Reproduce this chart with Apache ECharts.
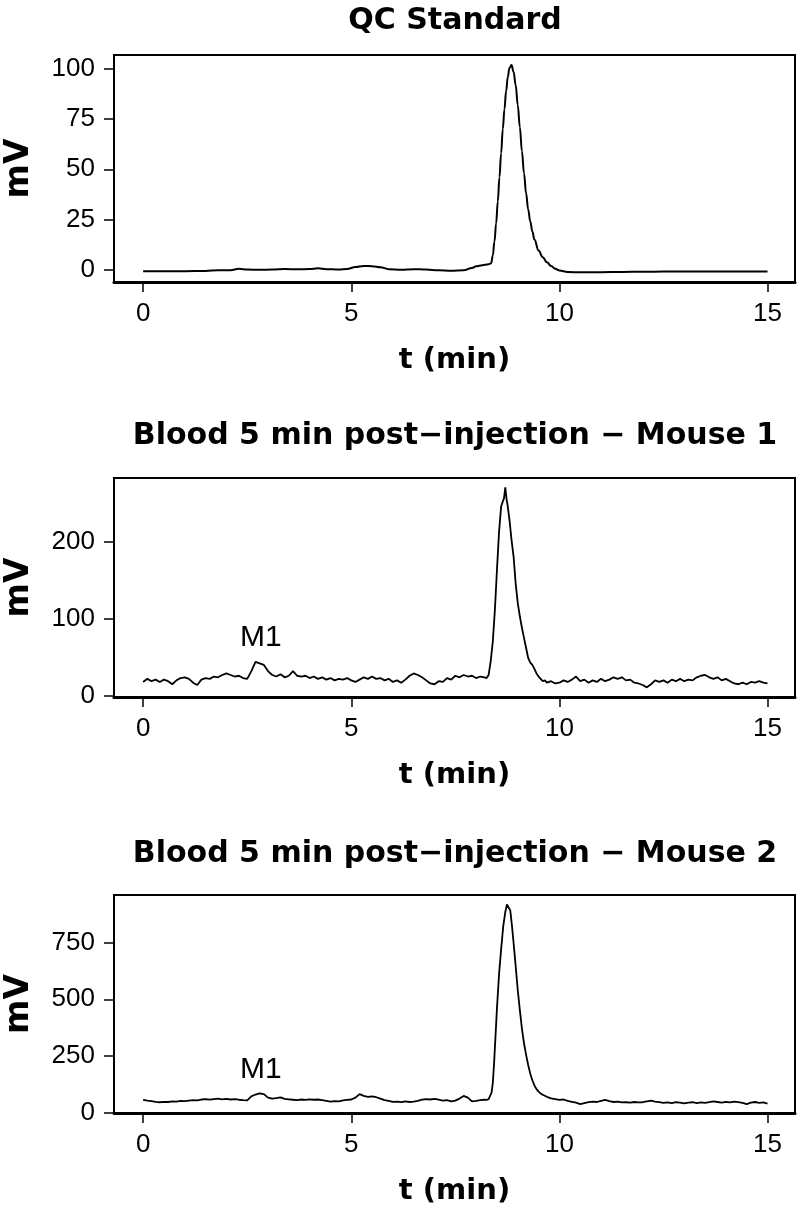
<!DOCTYPE html>
<html><head><meta charset="utf-8">
<script src="https://cdn.jsdelivr.net/npm/echarts@6/dist/echarts.min.js"></script>
<style>html,body{margin:0;padding:0;background:#fff}#c{width:800px;height:1208px}</style>
</head><body><div id="c"></div>
<script>
const panelTitles = ["QC Standard", "Blood 5 min post\u2212injection \u2212 Mouse 1", "Blood 5 min post\u2212injection \u2212 Mouse 2"];
const xTicks = [0, 5, 10, 15];
const yTicks1 = [0, 25, 50, 75, 100];
const yTicks2 = [0, 100, 200];
const yTicks3 = [0, 250, 500, 750];

const tQC = [0,0.5,1.0,1.5,1.8,2.1,2.3,2.5,2.8,3.1,3.4,3.7,4.0,4.2,4.4,4.7,4.9,5.1,5.3,5.5,5.7,5.9,6.2,6.5,6.8,7.1,7.4,7.7,7.9,8.0,8.15,8.3,8.36,8.4,8.44,8.48,8.52,8.56,8.6,8.64,8.68,8.72,8.76,8.8,8.85,8.9,8.95,9.0,9.05,9.1,9.15,9.2,9.25,9.3,9.35,9.4,9.5,9.6,9.7,9.8,9.9,10.0,10.2,10.5,11,11.5,12,12.5,13,13.5,14,14.5,15];
const vQC = [-0.8,-0.8,-0.8,-0.7,-0.3,-0.3,0.4,0.0,-0.1,0.0,0.3,0.1,0.3,0.6,0.2,0.0,0.3,1.3,1.8,1.7,1.2,0.2,-0.1,0.2,0.0,-0.4,-0.6,-0.4,0.8,1.6,2.2,2.6,3.2,7,14,23,34,46,58,70,80,89,96,100.5,102,98.5,92,82,71,59,48,38,30,24,19,15,9.5,6.2,3.6,1.8,0.4,-0.5,-1.2,-1.4,-1.3,-1.2,-1.1,-1.0,-1.0,-1.0,-1.0,-1.0,-1.0];

const tM1 = [0.0,0.1,0.2,0.3,0.4,0.5,0.6,0.7,0.8,0.9,1.0,1.1,1.2,1.3,1.4,1.5,1.6,1.7,1.8,1.9,2.0,2.1,2.2,2.3,2.4,2.5,2.6,2.7,2.8,2.9,3.0,3.1,3.2,3.3,3.4,3.5,3.6,3.7,3.8,3.9,4.0,4.1,4.2,4.3,4.4,4.5,4.6,4.7,4.8,4.9,5.0,5.1,5.2,5.3,5.4,5.5,5.6,5.7,5.8,5.9,6.0,6.1,6.2,6.3,6.4,6.5,6.6,6.7,6.8,6.9,7.0,7.1,7.2,7.3,7.4,7.5,7.6,7.7,7.8,7.9,8.0,8.1,8.2,8.25,8.3,8.35,8.4,8.45,8.5,8.55,8.6,8.63,8.67,8.7,8.73,8.76,8.8,8.85,8.9,8.95,9.0,9.05,9.1,9.15,9.2,9.25,9.3,9.35,9.4,9.45,9.5,9.55,9.6,9.65,9.7,9.8,9.9,10.0,10.1,10.2,10.3,10.4,10.5,10.6,10.7,10.8,10.9,11.0,11.1,11.2,11.3,11.4,11.5,11.6,11.7,11.8,11.9,12.0,12.1,12.2,12.3,12.4,12.5,12.6,12.7,12.8,12.9,13.0,13.1,13.2,13.3,13.4,13.5,13.6,13.7,13.8,13.9,14.0,14.1,14.2,14.3,14.4,14.5,14.6,14.7,14.8,14.9,15.0];
const vM1 = [18,22,19,21,18,21,19,15,20,23,24,22,17,14,21,23,22,25,24,27,29,27,25,26,23,22,32,44,42,40,32,27,25,28,24,26,32,26,25,26,23,25,22,24,21,23,20,22,21,23,20,18,21,24,22,25,22,23,20,22,18,20,17,21,26,29,27,24,20,16,15,19,18,23,21,26,24,27,25,26,23,25,24,23,27,45,70,111,163,212,245,250,256,270,255,245,228,202,180,145,120,103,88,75,62,49,43,40,35,29,25,22,19,20,17,19,16,17,20,18,21,25,19,21,17,20,18,22,19,21,24,22,24,20,21,17,16,14,11,15,20,18,20,17,21,19,22,19,21,20,24,26,27,24,22,24,20,22,19,16,15,17,15,18,17,19,17,16];

const tM2 = [0.0,0.1,0.2,0.3,0.4,0.5,0.6,0.7,0.8,0.9,1.0,1.1,1.2,1.3,1.4,1.5,1.6,1.7,1.8,1.9,2.0,2.1,2.2,2.3,2.4,2.5,2.6,2.7,2.8,2.9,3.0,3.1,3.2,3.3,3.4,3.5,3.6,3.7,3.8,3.9,4.0,4.1,4.2,4.3,4.4,4.5,4.6,4.7,4.8,4.9,5.0,5.1,5.2,5.3,5.4,5.5,5.6,5.7,5.8,5.9,6.0,6.1,6.2,6.3,6.4,6.5,6.6,6.7,6.8,6.9,7.0,7.1,7.2,7.3,7.4,7.5,7.6,7.7,7.8,7.9,8.0,8.1,8.2,8.25,8.3,8.34,8.37,8.4,8.43,8.46,8.5,8.55,8.6,8.65,8.7,8.74,8.78,8.82,8.86,8.9,8.95,9.0,9.05,9.1,9.15,9.2,9.25,9.3,9.35,9.4,9.45,9.5,9.55,9.6,9.7,9.8,9.9,10.0,10.1,10.2,10.3,10.4,10.5,10.6,10.7,10.8,10.9,11.0,11.1,11.2,11.3,11.4,11.5,11.6,11.7,11.8,11.9,12.0,12.1,12.2,12.3,12.4,12.5,12.6,12.7,12.8,12.9,13.0,13.1,13.2,13.3,13.4,13.5,13.6,13.7,13.8,13.9,14.0,14.1,14.2,14.3,14.4,14.5,14.6,14.7,14.8,14.9,15.0];
const vM2 = [56,53,51,48,46,48,47,50,49,52,51,53,55,54,58,60,57,60,62,59,61,58,60,57,55,54,72,80,85,82,66,62,64,67,61,59,57,55,58,56,59,57,58,55,52,49,51,50,54,56,58,66,82,74,70,72,68,62,55,52,48,49,46,50,47,49,52,57,60,58,61,57,53,55,50,53,62,74,66,50,52,55,57,56,60,68,88,130,215,320,460,610,720,820,885,918,912,892,825,748,645,540,452,370,306,255,210,172,143,120,104,93,85,79,70,63,60,56,58,52,48,44,38,42,46,49,47,52,56,51,47,49,45,46,44,47,45,46,50,53,49,46,43,45,42,46,44,41,44,46,42,45,43,46,50,47,44,48,45,49,46,43,38,44,47,43,45,40];

const pairs = (t, v) => t.map((x, i) => [x, v[i]]);
const BOLD = "DejaVu Sans";
const REG = "Liberation Sans";

const grids = [
  {left: 114, right: 5, top: 55, height: 227},
  {left: 114, right: 5, top: 478, height: 219},
  {left: 114, right: 5, top: 895, height: 218}
];
const yRanges = [[-6.2, 107], [-1.5, 282], [-1.5, 960]];
const yTickSets = [yTicks1, yTicks2, yTicks3];
const titleTops = [6, 421, 839];

const option = {
  animation: false,
  backgroundColor: '#fff',
  title: panelTitles.map((s, i) => ({
    text: s, left: 455, top: titleTops[i], textAlign: 'center', padding: 0,
    textStyle: {fontFamily: BOLD, fontWeight: 'bold', fontSize: 30, color: '#000'}
  })),
  grid: grids.map(g => Object.assign({show: true, borderColor: '#000', borderWidth: 2, backgroundColor: 'transparent', containLabel: false, outerBoundsMode: 'none'}, g)),
  xAxis: grids.map((g, i) => ({
    type: 'value', gridIndex: i, min: -0.7, max: 15.66,
    name: 't (min)', nameLocation: 'middle', nameGap: 64,
    nameTextStyle: {fontFamily: BOLD, fontWeight: 'bold', fontSize: 29, color: '#000'},
    splitLine: {show: false},
    axisLine: {show: true, onZero: false, lineStyle: {color: '#000', width: 3}},
    axisTick: {show: true, customValues: xTicks, length: 10, lineStyle: {color: '#000', width: 1.5}},
    axisLabel: {customValues: xTicks, margin: 19, fontFamily: REG, fontSize: 26, color: '#000'}
  })),
  yAxis: grids.map((g, i) => ({
    type: 'value', gridIndex: i, min: yRanges[i][0], max: yRanges[i][1],
    name: 'mV', nameLocation: 'middle', nameGap: 78, nameRotate: 90,
    nameTextStyle: {fontFamily: BOLD, fontWeight: 'bold', fontSize: 33, color: '#000'},
    splitLine: {show: false},
    axisLine: {show: true, onZero: false, lineStyle: {color: '#000', width: 2}},
    axisTick: {show: true, customValues: yTickSets[i], length: 10, lineStyle: {color: '#000', width: 1.5}},
    axisLabel: {customValues: yTickSets[i], margin: 19, fontFamily: REG, fontSize: 26, color: '#000'}
  })),
  series: [
    {type: 'line', xAxisIndex: 0, yAxisIndex: 0, data: pairs(tQC, vQC), showSymbol: false, smooth: 0.4, smoothMonotone: 'x',
     lineStyle: {color: '#000', width: 2}},
    {type: 'line', xAxisIndex: 1, yAxisIndex: 1, data: pairs(tM1, vM1), showSymbol: false,
     lineStyle: {color: '#000', width: 1.8},
     markPoint: {symbol: 'circle', symbolSize: 0, data: [{coord: [2.83, 75], label: {show: true, formatter: 'M1', position: 'inside', fontFamily: REG, fontSize: 30, color: '#000'}}]}},
    {type: 'line', xAxisIndex: 2, yAxisIndex: 2, data: pairs(tM2, vM2), showSymbol: false,
     lineStyle: {color: '#000', width: 1.8},
     markPoint: {symbol: 'circle', symbolSize: 0, data: [{coord: [2.83, 188], label: {show: true, formatter: 'M1', position: 'inside', fontFamily: REG, fontSize: 30, color: '#000'}}]}}
  ]
};
echarts.init(document.getElementById('c')).setOption(option);
</script></body></html>
